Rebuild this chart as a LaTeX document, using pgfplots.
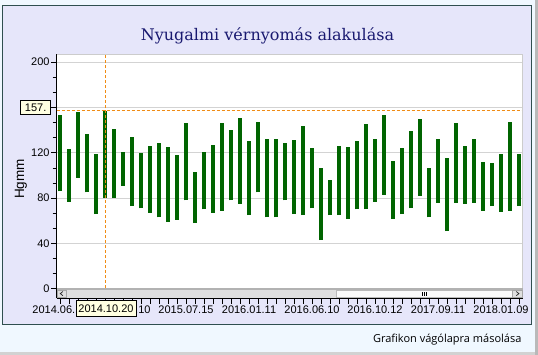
\documentclass[border=0pt]{standalone}
\usepackage{pgfplots}
\pgfplotsset{compat=1.18}
\usepackage{pgfplotstable}
\usepackage{fontspec}
\setmainfont{Liberation Sans}
\newfontfamily\titlefont{DejaVu Serif}
\newfontfamily\uifont{Open Sans}
\definecolor{bargreen}{RGB}{0,100,0}
\definecolor{crossorange}{RGB}{240,140,20}
\definecolor{lav}{RGB}{230,230,250}
\definecolor{bgblue}{RGB}{240,248,255}
\definecolor{panelborder}{RGB}{47,79,79}
\definecolor{gridgray}{RGB}{211,211,211}
\definecolor{tipfill}{RGB}{255,255,225}
\definecolor{titleblue}{RGB}{25,25,112}
\pgfplotstableread{
x lo hi
1 86 153
2 77 123
3 98 156
4 85 137
5 66 119
6 80 157
7 80 141
8 91 121
9 73 134
10 71 120
11 67 126
12 63 129
13 59 125
14 61 118
15 78 146
16 58 103
17 70 121
18 67 127
19 69 146
20 78 140
21 75 151
22 65 130
23 85 147
24 63 132
25 63 132
26 78 129
27 66 131
28 65 144
29 71 124
30 43 107
31 65 96
32 65 126
33 62 125
34 70 130
35 70 145
36 77 132
37 83 153
38 62 113
39 66 124
40 71 139
41 82 150
42 63 107
43 76 132
44 51 115
45 76 146
46 75 126
47 76 132
48 69 112
49 73 111
50 68 119
51 69 147
52 73 119
}\bpdata
\begin{document}
\begin{tikzpicture}[x=1pt,y=1pt]
\useasboundingbox (0,0) rectangle (538,355);
\fill[bgblue] (0,0) rectangle (538,355);
\fill[gray!55] (535,0) rectangle (538,355);
\fill[gray!35] (0,0) rectangle (535,2.5);
\filldraw[fill=lav, draw=panelborder, line width=1pt] (2.7,30.7) rectangle (531.3,349.7);
\begin{axis}[
  name=ax,
  at={(63,50.2)}, anchor=south west, scale only axis,
  width=466pt, height=244pt,
  xmin=0.633, xmax=52.41, ymin=-8.2, ymax=207.1,
  axis lines=left,
  axis line style={-, black, line width=1pt},
  axis background/.style={fill=white},
  tick align=outside,
  major tick length=5.5pt, minor tick length=4pt,
  tick style={black, line width=0.8pt},
  ytick={0,40,80,120,160,200},
  minor y tick num=2,
  xtick={1,...,52},
  xticklabels={2014.06.16,,,,,,,2015.01.10,,,,,,,2015.07.15,,,,,,,2016.01.11,,,,,,,2016.06.10,,,,,,,2016.10.12,,,,,,,2017.09.11,,,,,,,2018.01.09,,},
  ymajorgrids, grid style={gridgray, line width=0.8pt},
  tick label style={font=\fontsize{11}{13}\selectfont, black},
  /pgf/number format/assume math mode=true,
  yticklabel style={inner sep=1.5pt},
  xticklabel style={inner sep=2pt},
]
\addplot[draw=none, mark=none,
  error bars/.cd, y dir=plus, y explicit, error mark=none,
  error bar style={line width=3.3pt, draw=bargreen}]
  table[x=x, y=lo, y error expr=\thisrow{hi}-\thisrow{lo}] {\bpdata};
\draw[crossorange, line width=0.9pt, dash pattern=on 3pt off 2pt] (axis cs:6,0.5) -- (axis cs:6,207.1);
\draw[crossorange, line width=0.9pt, dash pattern=on 3pt off 2pt] (axis cs:0.633,157.5) -- (axis cs:52.41,157.5);
\end{axis}
% plot border top/right
\draw[gray!40, line width=0.8pt] (ax.north west) -- (ax.north east) -- (ax.south east);
% scrollbar (relative to axis)
\begin{scope}[shift={(ax.south west)}]
\fill[gray!25] (0.6,0.6) rectangle (466,8.3);
\fill[gray!60] (0.6,8.3) rectangle (466,10.3);
\filldraw[fill=gray!4, draw=gray!55, line width=0.6pt] (279.5,1) rectangle (456,8);
\draw[black, line width=0.6pt] (365.7,2.6) -- (365.7,6.4) (367.4,2.6) -- (367.4,6.4) (369.1,2.6) -- (369.1,6.4);
\draw[gray!70, line width=0.6pt] (0.8,1) rectangle (10,8);
\draw[gray!30!black, line width=0.7pt] (6.2,6.6) -- (3.6,4.5) -- (6.2,2.4);
\draw[gray!70, line width=0.6pt] (456,1) rectangle (465.8,8);
\draw[gray!30!black, line width=0.7pt] (459.6,6.6) -- (462.2,4.5) -- (459.6,2.4);
\end{scope}
% tooltips
\node[draw=black, fill=tipfill, line width=0.8pt, minimum width=30pt, minimum height=13.5pt, inner sep=0pt, font=\fontsize{11}{13}\selectfont] at (35.7,247.7) {157.};
\node[draw=black, fill=tipfill, line width=0.8pt, minimum width=60pt, minimum height=16pt, inner sep=0pt, font=\fontsize{11}{13}\selectfont] at (106,46.3) {2014.10.20};
% labels
\node[rotate=90, font=\fontsize{13.5}{15}\selectfont, anchor=base] at (24,176) {Hgmm};
\node[font=\titlefont\fontsize{16}{19}\selectfont, text=titleblue, anchor=base] at (267.5,314.5) {Nyugalmi vérnyomás alakulása};
\node[font=\uifont\fontsize{11}{13}\selectfont, anchor=base east] at (525,12.3) {Grafikon vágólapra másolása};
\end{tikzpicture}
\end{document}
